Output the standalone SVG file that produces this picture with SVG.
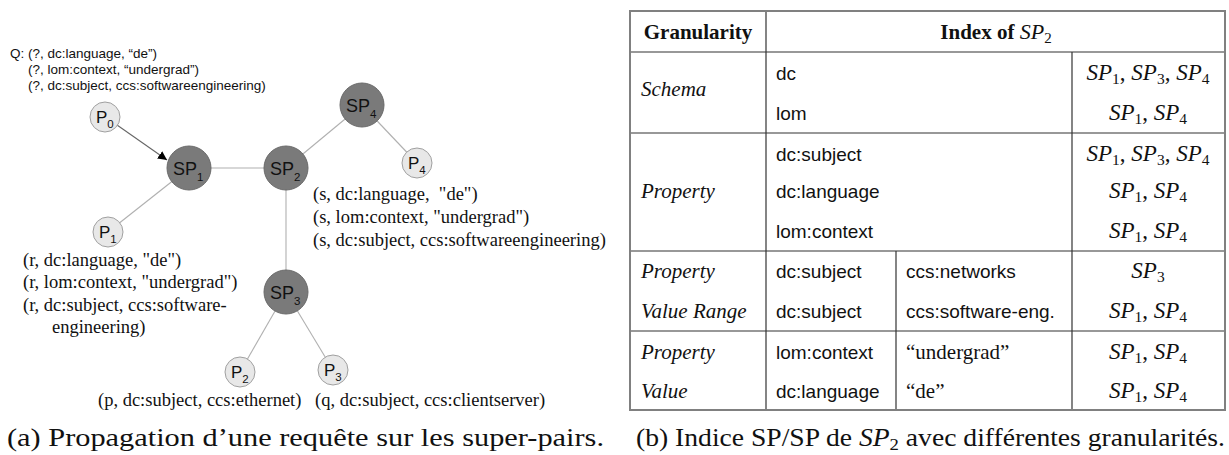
<svg xmlns="http://www.w3.org/2000/svg" width="1229" height="455" viewBox="0 0 1229 455">
<style>
.bg{fill:#fff}
.edge{stroke:#b0b0b0;stroke-width:1.1;fill:none}
.arrow{stroke:#666;stroke-width:1.1;fill:none}
.sp{fill:#7a7a7a;stroke:#6a6a6a;stroke-width:1}
.p{fill:#e8e8e8;stroke:#a0a0a0;stroke-width:1}
.nl{font-family:"Liberation Sans",Arial,sans-serif;font-size:18px;fill:#111}
.pl{font-family:"Liberation Sans",Arial,sans-serif;font-size:17px;fill:#111}
.sub{font-size:11.5px}
.q{font-family:"Liberation Sans",Arial,sans-serif;font-size:13.5px;fill:#111}
.ann{font-family:"Liberation Serif","Times New Roman",serif;font-size:18.5px;fill:#111}
.grid{stroke:#333;stroke-width:1.2;fill:none}
.outer{stroke:#808080;stroke-width:2;fill:none}
.hd{font-family:"Liberation Serif","Times New Roman",serif;font-size:21px;font-weight:bold;fill:#111}
.it{font-family:"Liberation Serif","Times New Roman",serif;font-size:21px;font-style:italic;fill:#111}
.ss{font-family:"Liberation Sans",Arial,sans-serif;font-size:19px;fill:#111}
.sr{font-family:"Liberation Serif","Times New Roman",serif;font-size:21px;fill:#111}
.m{font-family:"Liberation Serif","Times New Roman",serif;font-size:23px;fill:#111}
.mi{font-style:italic}
.ms{font-size:15.5px;font-style:normal}
.cap{font-family:"Liberation Serif","Times New Roman",serif;font-size:25px;fill:#111}
</style>
<defs>
<marker id="ah" viewBox="0 0 10 10" refX="10" refY="5" markerWidth="9" markerHeight="9" markerUnits="userSpaceOnUse" orient="auto">
<path d="M0,0 L10,5 L0,10 z" fill="#000"/>
</marker>
</defs>
<rect class="bg" x="0" y="0" width="1229" height="455"/>

<g id="connectors">
<line class="arrow" x1="117" y1="125" x2="167" y2="160" marker-end="url(#ah)"/>
<line class="edge" x1="189" y1="168" x2="286" y2="168"/>
<line class="edge" x1="189" y1="168" x2="108" y2="232"/>
<line class="edge" x1="286" y1="168" x2="362" y2="105"/>
<line class="edge" x1="362" y1="105" x2="417" y2="163"/>
<line class="edge" x1="286" y1="168" x2="286" y2="292"/>
<line class="edge" x1="286" y1="292" x2="240" y2="372"/>
<line class="edge" x1="286" y1="292" x2="333" y2="370"/>
</g>

<g id="query">
<text class="q" x="10" y="58">Q: (?, dc:language, “de”)</text>
<text class="q" x="28" y="74">(?, lom:context, “undergrad”)</text>
<text class="q" x="28" y="90">(?, dc:subject, ccs:softwareengineering)</text>
</g>

<g id="P0">
<circle class="p" cx="105" cy="117" r="15"/>
<text class="pl" x="96" y="123">P<tspan class="sub" dy="5">0</tspan></text>
</g>
<g id="SP1">
<circle class="sp" cx="189" cy="168" r="22"/>
<text class="nl" x="173" y="175">SP<tspan class="sub" dy="6">1</tspan></text>
</g>
<g id="SP2">
<circle class="sp" cx="286" cy="168" r="22"/>
<text class="nl" x="270" y="175">SP<tspan class="sub" dy="6">2</tspan></text>
</g>
<g id="SP4">
<circle class="sp" cx="362" cy="105" r="22"/>
<text class="nl" x="346" y="112">SP<tspan class="sub" dy="6">4</tspan></text>
</g>
<g id="P4">
<circle class="p" cx="417" cy="163" r="15"/>
<text class="pl" x="408" y="169">P<tspan class="sub" dy="5">4</tspan></text>
<text class="ann" x="313" y="200">(s, dc:language, &#160;"de")</text>
<text class="ann" x="313" y="223">(s, lom:context, "undergrad")</text>
<text class="ann" x="313" y="246">(s, dc:subject, ccs:softwareengineering)</text>
</g>
<g id="P1">
<circle class="p" cx="108" cy="232" r="15"/>
<text class="pl" x="99" y="238">P<tspan class="sub" dy="5">1</tspan></text>
<text class="ann" x="23" y="266">(r, dc:language, "de")</text>
<text class="ann" x="23" y="288">(r, lom:context, "undergrad")</text>
<text class="ann" x="23" y="311">(r, dc:subject, ccs:software-</text>
<text class="ann" x="52" y="333">engineering)</text>
</g>
<g id="SP3">
<circle class="sp" cx="286" cy="292" r="22"/>
<text class="nl" x="270" y="299">SP<tspan class="sub" dy="6">3</tspan></text>
</g>
<g id="P2">
<circle class="p" cx="240" cy="372" r="15"/>
<text class="pl" x="231" y="378">P<tspan class="sub" dy="5">2</tspan></text>
<text class="ann" x="98" y="406">(p, dc:subject, ccs:ethernet)</text>
</g>
<g id="P3">
<circle class="p" cx="333" cy="370" r="15"/>
<text class="pl" x="324" y="376">P<tspan class="sub" dy="5">3</tspan></text>
<text class="ann" x="315" y="406">(q, dc:subject, ccs:clientserver)</text>
</g>

<g id="table">
<line class="grid" x1="630" y1="52" x2="1225" y2="52"/>
<line class="grid" x1="630" y1="133" x2="1225" y2="133"/>
<line class="grid" x1="630" y1="251" x2="1225" y2="251"/>
<line class="grid" x1="630" y1="331" x2="1225" y2="331"/>
<line class="grid" x1="766" y1="11" x2="766" y2="410"/>
<line class="grid" x1="1072" y1="52" x2="1072" y2="410"/>
<line class="grid" x1="896" y1="251" x2="896" y2="410"/>
<rect class="outer" x="630" y="11" width="595" height="399"/>

<text class="hd" x="698" y="39" text-anchor="middle">Granularity</text>
<text class="hd" x="996" y="39" text-anchor="middle">Index of <tspan class="mi" font-weight="normal" font-size="22">SP</tspan><tspan font-weight="normal" font-size="15" dy="4">2</tspan></text>

<text class="it" x="641" y="96">Schema</text>
<text class="ss" x="776" y="80">dc</text>
<text class="ss" x="776" y="120">lom</text>
<text class="m" x="1148" y="80" text-anchor="middle"><tspan class="mi">SP</tspan><tspan class="ms" dy="4">1</tspan><tspan dy="-4">, </tspan><tspan class="mi">SP</tspan><tspan class="ms" dy="4">3</tspan><tspan dy="-4">, </tspan><tspan class="mi">SP</tspan><tspan class="ms" dy="4">4</tspan></text>
<text class="m" x="1148" y="120" text-anchor="middle"><tspan class="mi">SP</tspan><tspan class="ms" dy="4">1</tspan><tspan dy="-4">, </tspan><tspan class="mi">SP</tspan><tspan class="ms" dy="4">4</tspan></text>

<text class="it" x="641" y="198">Property</text>
<text class="ss" x="776" y="161">dc:subject</text>
<text class="ss" x="776" y="198">dc:language</text>
<text class="ss" x="776" y="238">lom:context</text>
<text class="m" x="1148" y="161" text-anchor="middle"><tspan class="mi">SP</tspan><tspan class="ms" dy="4">1</tspan><tspan dy="-4">, </tspan><tspan class="mi">SP</tspan><tspan class="ms" dy="4">3</tspan><tspan dy="-4">, </tspan><tspan class="mi">SP</tspan><tspan class="ms" dy="4">4</tspan></text>
<text class="m" x="1148" y="198" text-anchor="middle"><tspan class="mi">SP</tspan><tspan class="ms" dy="4">1</tspan><tspan dy="-4">, </tspan><tspan class="mi">SP</tspan><tspan class="ms" dy="4">4</tspan></text>
<text class="m" x="1148" y="238" text-anchor="middle"><tspan class="mi">SP</tspan><tspan class="ms" dy="4">1</tspan><tspan dy="-4">, </tspan><tspan class="mi">SP</tspan><tspan class="ms" dy="4">4</tspan></text>

<text class="it" x="641" y="278">Property</text>
<text class="it" x="641" y="318">Value Range</text>
<text class="ss" x="776" y="278">dc:subject</text>
<text class="ss" x="776" y="318">dc:subject</text>
<text class="ss" x="906" y="278">ccs:networks</text>
<text class="ss" x="906" y="318">ccs:software-eng.</text>
<text class="m" x="1148" y="278" text-anchor="middle"><tspan class="mi">SP</tspan><tspan class="ms" dy="4">3</tspan></text>
<text class="m" x="1148" y="318" text-anchor="middle"><tspan class="mi">SP</tspan><tspan class="ms" dy="4">1</tspan><tspan dy="-4">, </tspan><tspan class="mi">SP</tspan><tspan class="ms" dy="4">4</tspan></text>

<text class="it" x="641" y="359">Property</text>
<text class="it" x="641" y="398">Value</text>
<text class="ss" x="776" y="359">lom:context</text>
<text class="ss" x="776" y="398">dc:language</text>
<text class="sr" x="906" y="359">“undergrad”</text>
<text class="sr" x="906" y="398">“de”</text>
<text class="m" x="1148" y="359" text-anchor="middle"><tspan class="mi">SP</tspan><tspan class="ms" dy="4">1</tspan><tspan dy="-4">, </tspan><tspan class="mi">SP</tspan><tspan class="ms" dy="4">4</tspan></text>
<text class="m" x="1148" y="398" text-anchor="middle"><tspan class="mi">SP</tspan><tspan class="ms" dy="4">1</tspan><tspan dy="-4">, </tspan><tspan class="mi">SP</tspan><tspan class="ms" dy="4">4</tspan></text>
</g>

<g id="captions">
<text class="cap" x="7" y="446" textLength="597" lengthAdjust="spacingAndGlyphs">(a) Propagation d’une requête sur les super-pairs.</text>
<text class="cap" x="636" y="446" textLength="589" lengthAdjust="spacingAndGlyphs">(b) Indice SP/SP de <tspan font-style="italic">SP</tspan><tspan font-size="17" dy="4">2</tspan><tspan dy="-4"> avec différentes granularités.</tspan></text>
</g>
</svg>
